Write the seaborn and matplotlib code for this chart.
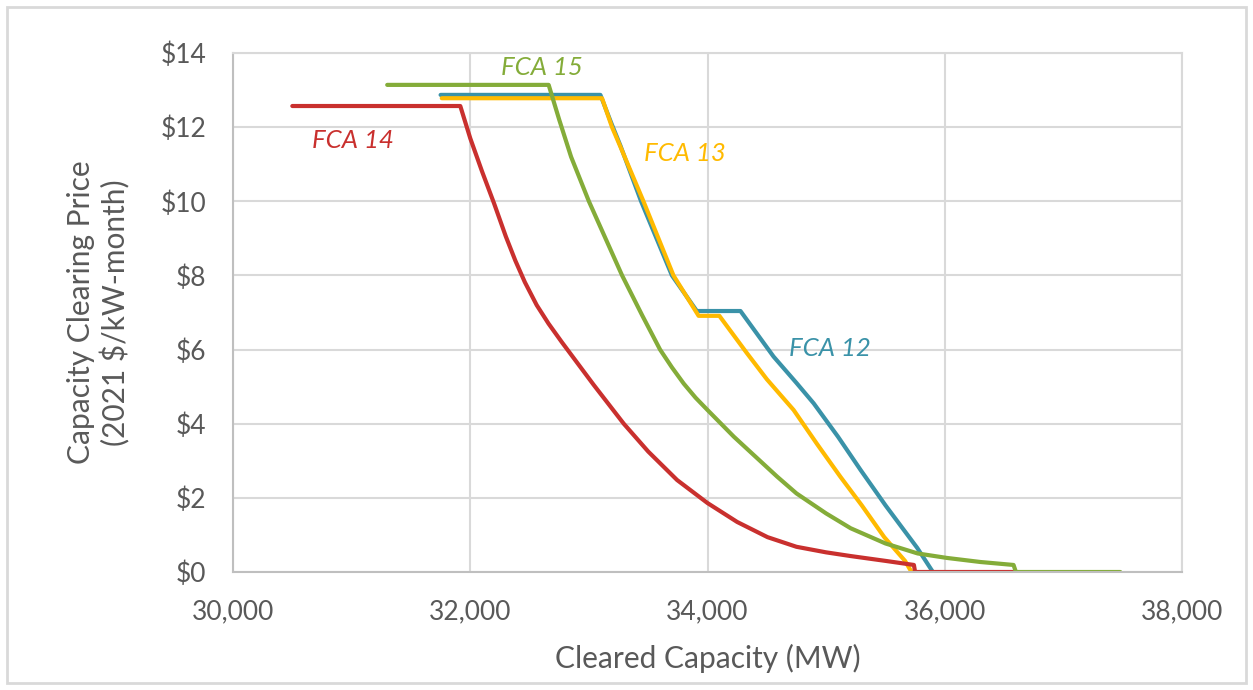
import numpy as np
import pandas as pd
import seaborn as sns
import matplotlib.pyplot as plt
from matplotlib.patches import Rectangle

# ---- data ----
fca12_mw = [31750, 33097, 33190, 33266, 33440, 33700, 33910, 34278, 34557, 34750, 34895,
            35100, 35291, 35500, 35628, 35768, 35900]
fca12_px = [12.87, 12.87, 12.1, 11.5, 10.0, 8.0, 7.04, 7.04, 5.81, 5.1, 4.55,
            3.65, 2.75, 1.8, 1.25, 0.65, 0.0]

fca13_mw = [31760, 33111, 33195, 33266, 33460, 33713, 33925, 34100, 34333, 34500, 34726,
            34924, 35120, 35300, 35490, 35665, 35720]
fca13_px = [12.78, 12.78, 12.0, 11.47, 10.0, 8.0, 6.91, 6.91, 5.9, 5.2, 4.37,
            3.45, 2.57, 1.8, 0.94, 0.3, 0.0]

fca14_mw = [30500, 31916, 32000, 32100, 32200, 32300, 32380, 32460, 32560, 32660, 32772, 33040, 33294,
            33500, 33744, 34000, 34250, 34506, 34750, 35000, 35207, 35500, 35740, 35750, 36600]
fca14_px = [12.57, 12.57, 11.7, 10.8, 9.95, 9.05, 8.4, 7.82, 7.2, 6.7, 6.2, 5.05, 4.0,
            3.25, 2.48, 1.86, 1.35, 0.94, 0.68, 0.53, 0.43, 0.3, 0.19, 0.0, 0.0]

fca15_mw = [31300, 32661, 32750, 32850, 33000, 33280, 33450, 33600, 33700, 33800, 33900, 34000,
            34222, 34588, 34750, 35000, 35207, 35500, 35772, 36017, 36300, 36580, 36600, 37480]
fca15_px = [13.14, 13.14, 12.2, 11.2, 10.0, 8.0, 6.92, 6.0, 5.52, 5.08, 4.7, 4.37,
            3.65, 2.57, 2.12, 1.58, 1.18, 0.77, 0.5, 0.38, 0.27, 0.19, 0.0, 0.0]

series_names = ["FCA 12", "FCA 13", "FCA 14", "FCA 15"]
series_colors = ["#3A92A8", "#FFBA00", "#C9302E", "#84AC39"]

x_ticks = [30000, 32000, 34000, 36000, 38000]
y_ticks = [0, 2, 4, 6, 8, 10, 12, 14]

label_pos = {"FCA 15": (32600, 13.62), "FCA 14": (31010, 11.65),
             "FCA 13": (33810, 11.3), "FCA 12": (35030, 6.04)}

frames = []
for name, mw, px in [("FCA 12", fca12_mw, fca12_px), ("FCA 13", fca13_mw, fca13_px),
                     ("FCA 14", fca14_mw, fca14_px), ("FCA 15", fca15_mw, fca15_px)]:
    frames.append(pd.DataFrame({"mw": mw, "price": px, "auction": name}))
df = pd.concat(frames, ignore_index=True)

sns.set_theme(style="white")
plt.rcParams['font.family'] = ['Lato', 'DejaVu Sans']

fig = plt.figure(figsize=(12.53, 6.9), dpi=100)
ax = fig.add_axes([233/1253, 1 - 572/690, (1182-233)/1253, (572-53)/690])

palette = dict(zip(series_names, series_colors))
for name in series_names:
    sub = df[df["auction"] == name]
    sns.lineplot(data=sub, x="mw", y="price", color=palette[name], sort=False,
                 estimator=None, linewidth=3.0, ax=ax, legend=False)

ax.set_xlim(30000, 38000)
ax.set_ylim(0, 14)
ax.set_xticks(x_ticks)
ax.set_yticks(y_ticks)
ax.set_xticklabels([f"{v:,}" for v in x_ticks])
ax.set_yticklabels([f"${v}" for v in y_ticks])
ax.grid(True, color="#D9D9D9", linewidth=1.5)
ax.set_axisbelow(True)
for s in ["top", "right"]:
    ax.spines[s].set_color("#D9D9D9")
    ax.spines[s].set_linewidth(1.5)
for s in ["left", "bottom"]:
    ax.spines[s].set_color("#BFBFBF")
    ax.spines[s].set_linewidth(1.5)
ax.tick_params(axis="both", length=0, labelsize=19, colors="#595959")
ax.tick_params(axis="x", pad=20)
ax.tick_params(axis="y", pad=19)

ax.set_xlabel("Cleared Capacity (MW)", fontsize=21.5, color="#595959", labelpad=14)
ax.set_ylabel("Capacity Clearing Price\n(2021 $/kW-month)", fontsize=21.5, color="#595959",
              labelpad=22, linespacing=1.2)

for name, (x, y) in label_pos.items():
    ax.text(x, y, name, color=palette[name], fontsize=18.5, style="italic",
            ha="center", va="center")

fig.patches.append(Rectangle((7/1253, 7/690), 1 - 14/1253, 1 - 14/690, transform=fig.transFigure,
                             fill=False, edgecolor="#D9D9D9", linewidth=2))

fig.savefig("out.png", dpi=100)
